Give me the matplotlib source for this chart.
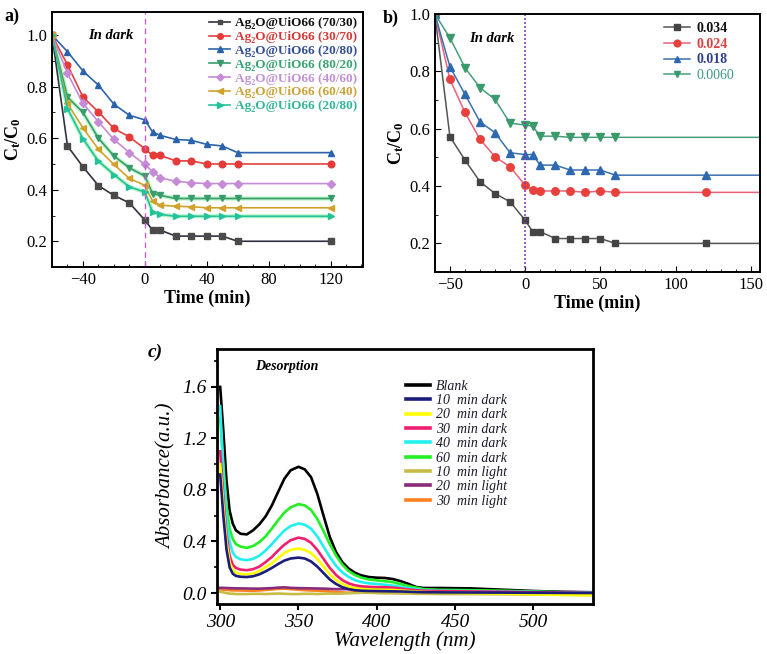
import numpy as np
import matplotlib
matplotlib.use("Agg")
import matplotlib.pyplot as plt
from matplotlib.ticker import MultipleLocator

plt.rcParams['font.family'] = ['Liberation Serif', 'DejaVu Serif']
plt.rcParams['mathtext.default'] = 'regular'

# ---- panel a data ----
time_a = [-60, -50, -40, -30, -20, -10, 0, 5, 10, 20, 30, 40, 50, 60, 120]
a_7030 = [1.0, 0.570, 0.489, 0.416, 0.378, 0.349, 0.282, 0.243, 0.243, 0.22, 0.22, 0.22, 0.22, 0.2, 0.2]
a_3070 = [1.0, 0.885, 0.760, 0.702, 0.638, 0.605, 0.559, 0.533, 0.533, 0.512, 0.512, 0.5, 0.5, 0.5, 0.5]
a_2080 = [1.0, 0.936, 0.861, 0.806, 0.732, 0.689, 0.671, 0.624, 0.611, 0.595, 0.592, 0.576, 0.570, 0.544, 0.544]
a_8020 = [1.0, 0.760, 0.700, 0.600, 0.531, 0.485, 0.453, 0.385, 0.378, 0.366, 0.366, 0.366, 0.366, 0.366, 0.366]
a_4060 = [1.0, 0.852, 0.735, 0.664, 0.595, 0.544, 0.498, 0.470, 0.446, 0.433, 0.427, 0.424, 0.424, 0.424, 0.424]
a_6040 = [1.0, 0.735, 0.640, 0.557, 0.498, 0.444, 0.417, 0.356, 0.340, 0.336, 0.334, 0.330, 0.330, 0.330, 0.330]
a_2080b = [1.0, 0.715, 0.598, 0.511, 0.459, 0.411, 0.391, 0.313, 0.304, 0.297, 0.297, 0.297, 0.297, 0.297, 0.297]
labels_a = ['70/30', '30/70', '20/80', '80/20', '40/60', '60/40', '20/80']

# ---- panel b data ----
time_b = [-60, -50, -40, -30, -20, -10, 0, 5, 10, 20, 30, 40, 50, 60, 120, 170]
b_034 = [1.0, 0.572, 0.491, 0.415, 0.374, 0.345, 0.281, 0.241, 0.241, 0.217, 0.217, 0.217, 0.217, 0.2, 0.2, 0.2]
b_024 = [1.0, 0.772, 0.657, 0.563, 0.502, 0.467, 0.403, 0.386, 0.383, 0.383, 0.383, 0.378, 0.383, 0.378, 0.378, 0.378]
b_018 = [1.0, 0.816, 0.720, 0.624, 0.586, 0.516, 0.510, 0.510, 0.473, 0.473, 0.456, 0.456, 0.456, 0.438, 0.438, 0.438]
b_0060 = [1.0, 0.917, 0.813, 0.743, 0.702, 0.619, 0.613, 0.609, 0.574, 0.574, 0.570, 0.570, 0.570, 0.570, 0.570, 0.570]
labels_b = ['0.034', '0.024', '0.018', '0.0060']

# ---- panel c data ----
wl = [300, 302, 304, 306, 308, 310, 313, 317, 321, 325, 329, 333, 337, 341, 345, 350, 354, 358, 362, 366,
      370, 374, 378, 382, 386, 390, 395, 400, 405, 410, 415, 420, 425, 430, 440, 460, 480, 500, 520, 540]
blank = [1.60, 1.26, 0.875, 0.64, 0.54, 0.487, 0.46, 0.455, 0.487, 0.533, 0.595, 0.68, 0.785, 0.888, 0.953,
         0.98, 0.96, 0.90, 0.77, 0.60, 0.435, 0.318, 0.24, 0.19, 0.158, 0.137, 0.124, 0.119, 0.117, 0.109,
         0.093, 0.072, 0.047, 0.039, 0.039, 0.036, 0.026, 0.016, 0.008, 0.005]
d60 = [1.36, 1.0, 0.68, 0.5, 0.42, 0.38, 0.36, 0.35, 0.365, 0.395, 0.44, 0.50, 0.565, 0.625, 0.665,
       0.69, 0.68, 0.645, 0.575, 0.48, 0.38, 0.29, 0.22, 0.17, 0.14, 0.12, 0.105, 0.098, 0.092, 0.085,
       0.07, 0.055, 0.042, 0.03, 0.025, 0.022, 0.018, 0.012, 0.006, 0.003]
d40 = [1.45, 0.95, 0.6, 0.4, 0.315, 0.28, 0.262, 0.255, 0.265, 0.29, 0.33, 0.38, 0.435, 0.485, 0.52,
       0.54, 0.53, 0.5, 0.44, 0.36, 0.28, 0.21, 0.16, 0.125, 0.1, 0.085, 0.075, 0.07, 0.065, 0.058,
       0.048, 0.038, 0.03, 0.022, 0.018, 0.015, 0.012, 0.008, 0.004, 0.002]
d30 = [1.1, 0.75, 0.45, 0.29, 0.22, 0.195, 0.182, 0.177, 0.185, 0.205, 0.24, 0.28, 0.33, 0.375, 0.41,
       0.43, 0.42, 0.39, 0.335, 0.265, 0.195, 0.14, 0.1, 0.075, 0.06, 0.052, 0.048, 0.046, 0.045, 0.042,
       0.035, 0.028, 0.022, 0.018, 0.015, 0.012, 0.01, 0.006, 0.003, 0.0]
d20 = [1.0, 0.68, 0.4, 0.24, 0.18, 0.158, 0.148, 0.145, 0.152, 0.17, 0.2, 0.232, 0.272, 0.31, 0.335,
       0.345, 0.335, 0.31, 0.265, 0.205, 0.145, 0.1, 0.07, 0.05, 0.038, 0.032, 0.028, 0.026, 0.025, 0.024,
       0.02, 0.016, 0.012, 0.008, 0.005, 0.0, -0.005, -0.01, -0.015, -0.018]
d10 = [0.92, 0.6, 0.34, 0.2, 0.15, 0.133, 0.126, 0.124, 0.13, 0.145, 0.168, 0.195, 0.225, 0.252, 0.268,
       0.275, 0.268, 0.245, 0.205, 0.155, 0.105, 0.07, 0.045, 0.03, 0.022, 0.018, 0.016, 0.015, 0.014, 0.013,
       0.012, 0.01, 0.008, 0.006, 0.005, 0.004, 0.003, 0.002, 0.001, 0.0]
l10 = [0.01, 0.005, 0.0, -0.005, -0.005, -0.008, -0.008, -0.008, -0.006, -0.006, -0.008, -0.006, -0.004, -0.006, -0.008,
       -0.008, -0.006, -0.006, -0.008, -0.006, -0.004, -0.006, -0.004, -0.002, 0.0, 0.002, 0.002, 0.0, -0.002, -0.002,
       -0.004, -0.004, -0.006, -0.006, -0.008, -0.008, -0.01, -0.012, -0.014, -0.016]
l20 = [0.04, 0.04, 0.039, 0.038, 0.037, 0.036, 0.036, 0.035, 0.034, 0.034, 0.036, 0.038, 0.042, 0.044, 0.04,
       0.038, 0.037, 0.036, 0.035, 0.034, 0.032, 0.03, 0.03, 0.03, 0.033, 0.036, 0.04, 0.04, 0.038, 0.035,
       0.032, 0.03, 0.028, 0.025, 0.02, 0.016, 0.013, 0.01, 0.008, 0.006]
l30 = [0.028, 0.026, 0.024, 0.022, 0.02, 0.02, 0.02, 0.018, 0.018, 0.02, 0.024, 0.028, 0.032, 0.034, 0.03,
       0.026, 0.022, 0.02, 0.018, 0.016, 0.012, 0.008, 0.004, 0.002, 0.006, 0.02, 0.03, 0.034, 0.032, 0.03,
       0.026, 0.022, 0.02, 0.016, 0.012, 0.008, 0.004, 0.0, -0.006, -0.01]
labels_c = ['Blank', '10  min dark', '20  min dark', '30  min dark', '40  min dark',
            '60  min dark', '10  min light', '20  min light', '30  min light']

fig = plt.figure(figsize=(7.67, 6.54), dpi=100)

# ================= panel a =================
ax = fig.add_axes([0.0678, 0.5917, 0.4055, 0.390])
series_a = [a_7030, a_3070, a_2080, a_8020, a_4060, a_6040, a_2080b]
line_cols = ['#30323f', '#e2403f', '#2d65a8', '#3a9c6c', '#c58bd6', '#d1a22a', '#22c39a']
mk_cols = ['#4a4a4a', '#e53b3b', '#2a62ac', '#3a9c6c', '#c58bd6', '#d1a22a', '#22c39a']
text_cols = ['#111111', '#d63838', '#334f92', '#3aa272', '#c290d3', '#c9a238', '#33b597']
markers = ['s', 'o', '^', 'v', 'D', '<', '>']
msizes = [4.2, 4.8, 5, 5, 4.2, 5, 5]
# faint green halo under the two green-ish curves
for ys in (a_8020, a_2080b):
    ax.plot(time_a, ys, color='#b8f5c8', lw=3.0, zorder=1.5)
for i, ys in enumerate(series_a):
    ax.plot(time_a, ys, color=line_cols[i], lw=1.2, marker=markers[i], ms=msizes[i],
            mfc=mk_cols[i], mec=mk_cols[i], label='Ag\u2082O@UiO66 (' + labels_a[i] + ')', zorder=2)
ax.axvline(0, color='#c462c9', lw=1, ls=(0, (4, 3)))
ax.set_xlim(-60, 141)
ax.set_ylim(0.1, 1.09)
ax.xaxis.set_major_locator(MultipleLocator(40))
ax.xaxis.set_minor_locator(MultipleLocator(10))
ax.yaxis.set_major_locator(MultipleLocator(0.2))
ax.yaxis.set_minor_locator(MultipleLocator(0.1))
ax.tick_params(which='both', direction='in', labelsize=12)
ax.tick_params(which='major', length=4)
ax.tick_params(which='minor', length=2.5)
for s in ax.spines.values():
    s.set_linewidth(1.4)
ax.set_xlabel('Time (min)', fontsize=13, fontweight='bold', labelpad=1)
ax.set_ylabel('C$_t$/C$_0$', fontsize=13, fontweight='bold', labelpad=2)
ax.text(-22, 1.0, 'In dark', fontsize=10.5, fontweight='bold', style='italic', ha='center', va='center')
leg = ax.legend(loc='upper right', bbox_to_anchor=(0.985, 0.985), frameon=False,
                prop={'weight': 'bold', 'size': 9.5}, labelspacing=0.12, handlelength=1.6,
                handletextpad=0.35, borderaxespad=0, borderpad=0.1, markerscale=0.85)
for t, c in zip(leg.get_texts(), text_cols):
    t.set_color(c)
fig.text(0.006, 0.975, 'a)', fontsize=13, fontweight='bold', va='center')

# ================= panel b =================
bx = fig.add_axes([0.567, 0.584, 0.4236, 0.3945])
series_b = [b_034, b_024, b_018, b_0060]
lb_cols = ['#555555', '#e8607a', '#3a70ad', '#45a07a']
mb_cols = ['#444444', '#e8403c', '#2e68b0', '#3a9a6c']
tb_cols = ['#111111', '#dd4040', '#2f3f8c', '#3a9a80']
mb = ['s', 'o', '^', 'v']
mark_idx = [list(range(15)), list(range(15)), list(range(15)), list(range(14))]
for i, ys in enumerate(series_b):
    bx.plot(time_b, ys, color=lb_cols[i], lw=1.1, marker=mb[i], ms=5.4 if i else 5,
            mfc=mb_cols[i], mec=mb_cols[i], markevery=mark_idx[i], label=labels_b[i])
bx.axvline(0, color='#8a3fae', lw=1.2, ls=(0, (1.2, 1.2)))
bx.set_xlim(-60, 156)
bx.set_ylim(0.1, 1.0)
bx.xaxis.set_major_locator(MultipleLocator(50))
bx.xaxis.set_minor_locator(MultipleLocator(10))
bx.yaxis.set_major_locator(MultipleLocator(0.2))
bx.yaxis.set_minor_locator(MultipleLocator(0.1))
bx.tick_params(which='both', direction='in', labelsize=12)
bx.tick_params(which='major', length=4)
bx.tick_params(which='minor', length=2.5)
for s in bx.spines.values():
    s.set_linewidth(1.4)
bx.set_xlabel('Time (min)', fontsize=13, fontweight='bold', labelpad=1)
bx.set_ylabel('C$_t$/C$_0$', fontsize=13, fontweight='bold', labelpad=2)
bx.text(-22, 0.915, 'In dark', fontsize=10.5, fontweight='bold', style='italic', ha='center', va='center')
leg = bx.legend(loc='upper left', bbox_to_anchor=(0.70, 0.975), frameon=False,
                prop={'weight': 'bold', 'size': 10}, labelspacing=0.2, handlelength=1.9,
                handletextpad=0.45, borderaxespad=0, borderpad=0.1, markerscale=0.9)
for t, c in zip(leg.get_texts(), tb_cols):
    t.set_color(c)
leg.get_texts()[3].set_fontweight('normal')
fig.text(0.499, 0.972, 'b)', fontsize=13, fontweight='bold', va='center')

# ================= panel c =================
cx = fig.add_axes([0.283, 0.0765, 0.490, 0.390])
series_c = [blank, d10, d20, d30, d40, d60, l10, l20, l30]
c_cols = ['#000000', '#1c1c7a', '#ffff00', '#f01e6e', '#22f0f0', '#22f022', '#c8bc48', '#8a2a7a', '#ff8020']
order = [8, 7, 6, 0, 5, 4, 3, 2, 1]
lines = {}
for i in order:
    lines[i], = cx.plot(wl, series_c[i], color=c_cols[i], lw=1.9, label=labels_c[i])
cx.set_xlim(298, 538)
cx.set_ylim(-0.085, 1.895)
cx.xaxis.set_major_locator(MultipleLocator(50))
cx.yaxis.set_major_locator(MultipleLocator(0.4))
cx.yaxis.set_minor_locator(MultipleLocator(0.2))
cx.tick_params(which='both', direction='out', labelsize=14)
cx.tick_params(which='major', length=4, width=1.5)
cx.tick_params(which='minor', length=2.5, width=1.2)
for lab in cx.get_xticklabels() + cx.get_yticklabels():
    lab.set_fontstyle('italic')
for s in cx.spines.values():
    s.set_linewidth(2)
cx.set_xlabel('Wavelength (nm)', fontsize=15, style='italic', labelpad=0)
cx.set_ylabel('Absorbance(a.u.)', fontsize=15, style='italic', labelpad=4)
cx.text(322, 1.755, 'Desorption', fontsize=10, fontweight='bold', style='italic', va='center')
leg = cx.legend([lines[i] for i in range(9)], labels_c, loc='upper left', bbox_to_anchor=(0.5, 0.885),
                frameon=False, prop={'style': 'italic', 'size': 10}, labelspacing=0.1,
                handlelength=1.7, handletextpad=0.4, borderaxespad=0, borderpad=0.1)
for t in leg.get_texts():
    t.set_color('#1a1a2a')
for h in leg.legend_handles:
    h.set_linewidth(2.6)
fig.text(0.193, 0.462, 'c)', fontsize=14, fontweight='bold', style='italic', va='center')

fig.savefig('out.png', dpi=100)
